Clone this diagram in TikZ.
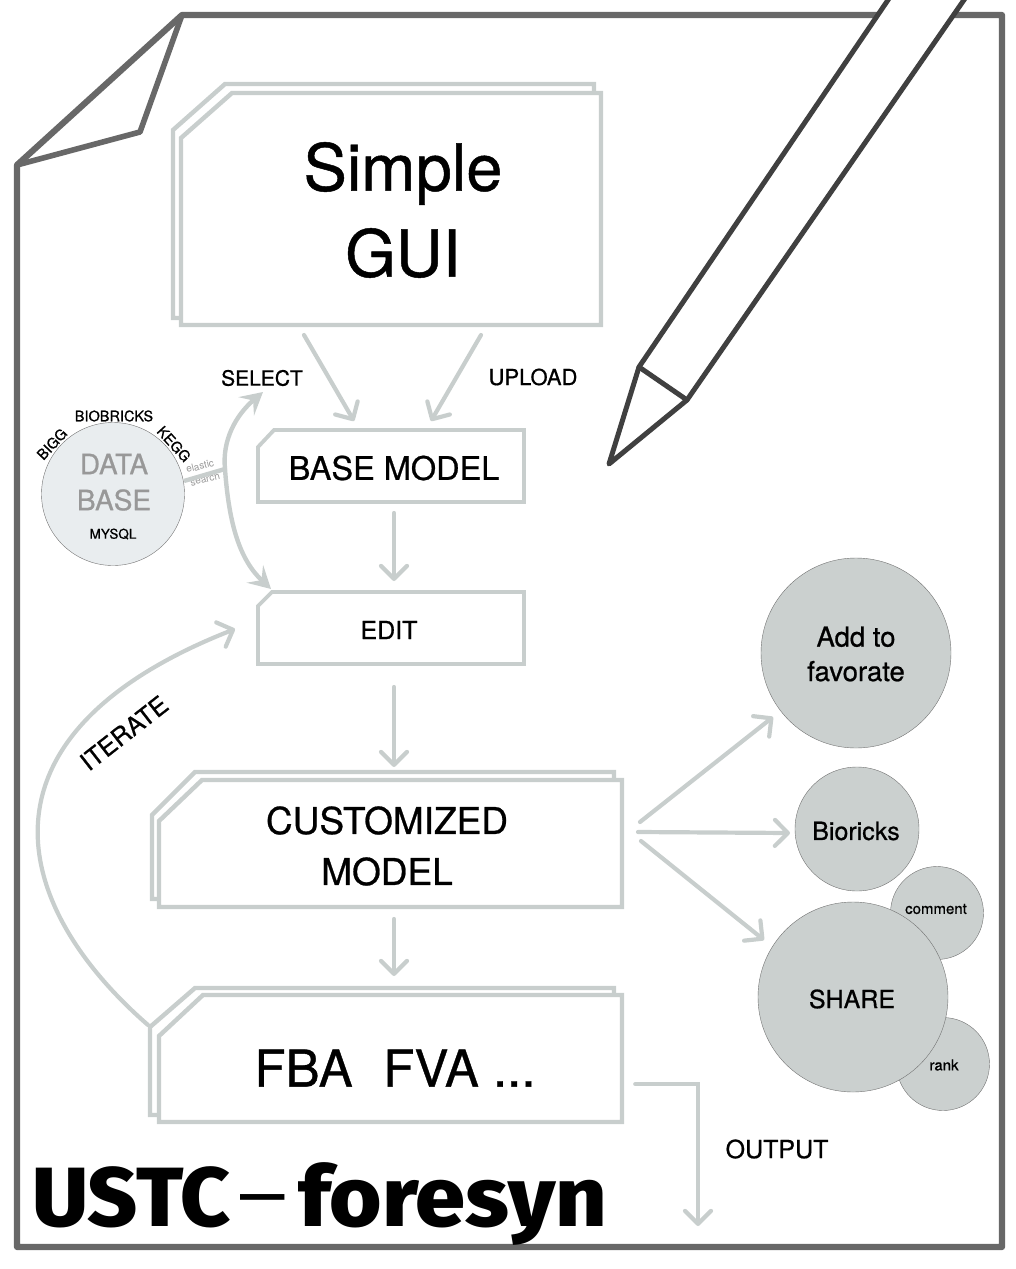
\documentclass[tikz,border=0pt]{standalone}
\usepackage{fontspec}
\setmainfont[FakeBold=0.7]{TeX Gyre Heros}
\newfontfamily\plainfont{TeX Gyre Heros}
\newfontfamily\heavyfont[FakeStretch=1.03]{Fira Sans ExtraBold}
\newfontfamily\heavywide[FakeStretch=1.07]{Fira Sans ExtraBold}
\usetikzlibrary{arrows.meta}
\definecolor{frameg}{HTML}{686868}
\definecolor{pendk}{HTML}{404040}
\definecolor{boxg}{HTML}{C8CECD}
\definecolor{circg}{HTML}{CBD0CF}
\definecolor{dbg}{HTML}{E9EDEF}
\definecolor{dbt}{HTML}{989898}
\tikzset{
 x=1pt,y=-1pt,
 framel/.style={draw=frameg,line width=6.2pt,line join=round,line cap=round},
 penl/.style={draw=pendk,line width=5pt,line join=round,line cap=round},
 boxl/.style={draw=boxg,line width=4.4pt,fill=white,line join=miter},
 arr/.style={draw=boxg,line width=4.2pt,line cap=round,line join=round,
   -{Straight Barb[length=13pt,width=26pt,line width=4.2pt,round]}},
 arrthin/.style={arr,line width=3.6pt},
 solidarr/.style={draw=boxg,line width=4.4pt,line cap=round,
   -{Stealth[length=22pt,width=24pt,inset=9pt]}},
 lab/.style={font=\fontsize{#1}{#1}\selectfont,align=center,inner sep=0pt,text=black},
 circ/.style={circle,fill=circg,draw=black!55,line width=.4pt,inner sep=0pt,minimum size=#1},
}
\begin{document}
\begin{tikzpicture}
\useasboundingbox (0,0) rectangle (1015,1269);
% sheet
\draw[framel] (182,15) -- (1002,15) -- (1002,1247) -- (17,1247) -- (17,165) -- cycle;
\draw[framel,line width=5.6pt] (17,165) -- (140,132) -- (182,15);
% pen
\fill[white] (890,-3) -- (639,367) -- (687,400) -- (966,-3) -- cycle;
\draw[penl] (890,-3) -- (639,367) -- (687,400) -- (966,-3);
\draw[penl] (639,367) -- (609,464) -- (687,400);
% simple gui
\path[boxl] (173,130) -- (225,84) -- (594,84) -- (594,318) -- (173,318) -- cycle;
\path[boxl] (181,138) -- (232,93) -- (601,93) -- (601,325) -- (181,325) -- cycle;
\node[lab=65] (gui) at (403,210) {Simple\\[21pt]GUI};
% base model
\path[boxl,line width=3.8pt] (258,447) -- (274,430) -- (524,430) -- (524,502) -- (258,502) -- cycle;
\node[lab=32.5] (base) at (394,468) {BASE MODEL};
% edit
\path[boxl,line width=3.8pt] (258,606) -- (272,592) -- (524,592) -- (524,664) -- (258,664) -- cycle;
\node[lab=25] (edit) at (389,630) {EDIT};
% customized
\path[boxl] (152,815) -- (195,772) -- (614,772) -- (614,899) -- (152,899) -- cycle;
\path[boxl] (159,821) -- (202,780) -- (622,780) -- (622,907) -- (159,907) -- cycle;
\node[lab=37] (cust) at (387,846) {CUSTOMIZED\\[14pt]MODEL};
% fba
\path[boxl] (150,1027) -- (195,988) -- (614,988) -- (614,1115) -- (150,1115) -- cycle;
\path[boxl] (159,1036) -- (203,995) -- (622,995) -- (622,1122) -- (159,1122) -- cycle;
\node[lab=51] (fba) at (395,1068) {FBA\hspace{.6em}FVA ...};
% database circle
\node[circ=143pt,fill=dbg] (db) at (113,494) {};
\node[lab=28,text=dbt] at (114,464) {DATA};
\node[lab=28,text=dbt] at (114,500) {BASE};
\node[lab=13.5] at (113,534) {MYSQL};
\node[lab=14.5] at (114,416) {BIOBRICKS};
\node[lab=14.5,rotate=47] at (52,444) {BIGG};
\node[lab=14.5,rotate=-48] at (174,444) {KEGG};
\node[font=\plainfont\fontsize{10}{10}\selectfont,inner sep=0pt,text=dbt,rotate=14] at (200,466) {elastic};
\node[font=\plainfont\fontsize{10}{10}\selectfont,inner sep=0pt,text=dbt,rotate=14] at (205,479) {search};
% arrows
\coordinate (dbout) at (184,481);
\coordinate (hub) at (225,469);
\draw[draw=boxg,line width=4.4pt] (dbout) -- (hub);
\draw[solidarr] (hub) .. controls (222,440) and (236,415) .. (263,392);
\draw[solidarr] (hub) .. controls (229,525) and (240,560) .. (271,589);
\draw[arr] (304,335) -- (354,421);
\draw[arr] (481,335) -- (431,421);
\draw[arr] (394,513) -- (394,581);
\draw[arr] (394,687) -- (394,767);
\draw[arr] (394,919) -- (394,976);
\draw[arr] (148,1025) .. controls (10,905) and (-35,735) .. (235,629);
\draw[arr] (640,822) -- (773,717);
\draw[arr] (638,832) -- (790,833);
\draw[arr] (641,841) -- (764,940);
\draw[arrthin,line join=miter] (635,1084) -- (698,1084) -- (698,1226);
% text labels
\node[lab=21] at (262,378) {SELECT};
\node[lab=22] at (533,377) {UPLOAD};
\node[lab=25,rotate=38] at (124,733) {ITERATE};
\node[lab=25] at (777,1149) {OUTPUT};
% right circles
\node[circ=190pt] (fav) at (856,653) {};
\node[lab=27.5] at (856,654) {Add to\\[7pt]favorate};
\node[circ=124pt] (bio) at (857,829) {};
\node[lab=25] at (856,831) {Bioricks};
\node[circ=93pt] (com) at (937,913) {};
\node[lab=15] at (936,909) {comment};
\node[circ=93pt] (rnk) at (943,1064) {};
\node[lab=15] at (944,1065) {rank};
\node[circ=190pt] (share) at (853,997) {};
\node[lab=25] at (852,999) {SHARE};
% title
\node[inner sep=0pt,anchor=base west,font=\heavyfont\fontsize{84}{84}\selectfont] (title) at (32,1226) {USTC\kern10pt{\plainfont\fontsize{80}{80}\selectfont\raisebox{7pt}{–}}\kern13pt{\heavywide foresyn}};
\end{tikzpicture}
\end{document}
